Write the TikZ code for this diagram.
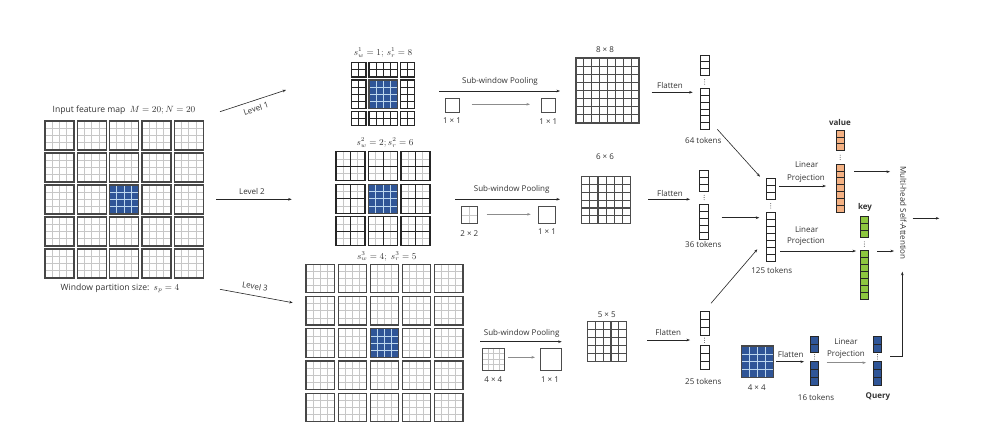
\documentclass[tikz,border=0pt]{standalone}
\usepackage{fontspec}
\setmainfont{Open Sans}
\usetikzlibrary{arrows.meta}
\definecolor{qblue}{HTML}{2F5597}
\definecolor{qline}{HTML}{BDD7EE}
\definecolor{vorange}{HTML}{F4B183}
\definecolor{kgreen}{HTML}{8DC63F}
\tikzset{
  fineln/.style={draw=black!22,line width=0.8pt},
  blueln/.style={draw=qline,line width=0.8pt},
  winbd/.style={draw=black!72,line width=1.2pt},
  cellln/.style={draw=black!85,line width=1pt},
  cellbd/.style={draw=black!85,line width=1.2pt},
  outln/.style={draw=black!70,line width=1.1pt},
  tokbd/.style={draw=black!85,line width=0.8pt},
  lbl/.style={font=\fontsize{8}{9}\selectfont,text=black!80,inner sep=0pt},
  mlbl/.style={font=\fontsize{8.6}{9}\selectfont,text=black!80,inner sep=0pt},
  blbl/.style={lbl,font=\fontsize{8}{9}\selectfont\bfseries},
  arr/.style={-{Stealth[length=3.5pt,width=2.6pt]},line width=0.6pt,draw=black!85},
  garr/.style={-{Stealth[length=3.5pt,width=2.6pt]},line width=1pt,draw=black!45},
  pbox/.style={draw=black!70,line width=1pt}
}
\newcommand\cellgrid[7]{%
  \pgfmathsetmacro\cgdx{(#3)/(#5)}%
  \pgfmathsetmacro\cgdy{(#4)/(#6)}%
  \foreach \ci in {1,...,#5}{\draw[#7] ({#1+\ci*\cgdx},{#2}) -- ++(0,{#4});}%
  \foreach \cj in {1,...,#6}{\draw[#7] ({#1},{#2+\cj*\cgdy}) -- ++({#3},0);}%
}
\newcommand\gwin[3]{\cellgrid{#1}{#2}{#3}{#3}{4}{4}{fineln}\draw[winbd] ({#1},{#2}) rectangle ++(#3,#3);}
\newcommand\bwin[3]{\fill[qblue] ({#1},{#2}) rectangle ++(#3,#3);\cellgrid{#1}{#2}{#3}{#3}{4}{4}{blueln}\draw[winbd] ({#1},{#2}) rectangle ++(#3,#3);}
\newcommand\kblk[4]{\cellgrid{#1}{#2}{#3*7.1}{#4*7.1}{#3}{#4}{cellln}\draw[cellbd] ({#1},{#2}) rectangle ++({#3*7.1},{#4*7.1});}
\newcommand\mblk[3]{\cellgrid{#1}{#2}{#3}{#3}{4}{4}{fineln}\cellgrid{#1}{#2}{#3}{#3}{2}{2}{cellln}\draw[cellbd] ({#1},{#2}) rectangle ++(#3,#3);}
% token column: x, w, y1, n1, y2, n2, cell h, fill
\newcommand\tokcol[8]{%
  \foreach \k in {1,...,#4}{\draw[tokbd,fill=#8] ({#1},{#3+(\k-1)*#7}) rectangle ++(#2,#7);}%
  \foreach \k in {1,...,#6}{\draw[tokbd,fill=#8] ({#1},{#5+(\k-1)*#7}) rectangle ++(#2,#7);}%
  \foreach \d in {-2.2,0,2.2}{\fill[black!80] ({#1+#2/2},{(#3+#4*#7+#5)/2+\d}) circle[radius=0.45pt];}%
}
\begin{document}
\begin{tikzpicture}[x=1pt,y=-1pt]
\useasboundingbox (0,0) rectangle (992,432);
\fill[white] (0,0) rectangle (992,432);

% ---------------- input feature map
\foreach \r in {0,...,4}{\foreach \c in {0,...,4}{\gwin{45+\c*32.3}{121+\r*32}{29}}}
\bwin{45+2*32.3}{121+2*32}{29}
\node[mlbl] (inlbl) at (124,110.7) {Input feature map\enspace $M=20;N=20$};
\node[mlbl] (wps) at (120,288) {Window partition size:\enspace $s_p=4$};

% ---------------- level arrows
\coordinate (l1a) at (220,111.7); \coordinate (l1b) at (286,90);
\coordinate (l2a) at (216,199.3); \coordinate (l2b) at (291.7,199.3);
\coordinate (l3a) at (220,289.3); \coordinate (l3b) at (292.7,302.7);
\draw[arr] (l1a) -- (l1b);
\draw[arr] (l2a) -- (l2b);
\draw[arr] (l3a) -- (l3b);
\node[lbl,rotate=18] (lv1) at (256,108.5) {Level 1};
\node[lbl] (lv2) at (252,191.5) {Level 2};
\node[lbl,rotate=-10] (lv3) at (255,286.5) {Level 3};

% ---------------- level 1 region
\foreach \x/\nx in {351.7/2,368.9/4,400.3/2}{\foreach \y/\ny in {62.7/2,79.9/4,111.3/2}{\kblk{\x}{\y}{\nx}{\ny}}}
\bwin{368.9}{79.9}{28.4}
\node[mlbl] (s1) at (383,52.5) {$s_w^1=1;\,s_r^1=8$};

% ---------------- level 2 region
\foreach \x in {336,368.5,401}{\foreach \y in {151.7,184.2,216.7}{\mblk{\x}{\y}{29}}}
\bwin{368.5}{184.2}{29}
\node[mlbl] (s2) at (385,142.8) {$s_w^2=2;s_r^2=6$};

% ---------------- level 3 region
\foreach \r in {0,...,4}{\foreach \c in {0,...,4}{\gwin{306+\c*32.1}{264.3+\r*32.25}{28.5}}}
\bwin{306+2*32.1}{264.3+2*32.25}{28.5}
\node[mlbl] (s3) at (386.7,256.2) {$s_w^3=4;\;s_r^3=5$};

% ---------------- sub-window pooling, row 1
\node[lbl] (sp1) at (500,81.7) {Sub-window Pooling};
\coordinate (sp1a) at (439.3,91); \coordinate (sp1b) at (560,91);
\draw[arr] (sp1a) -- (sp1b);
\draw[pbox] (445,98.3) rectangle ++(14,14);
\draw[pbox] (541,98.3) rectangle ++(14,14);
\coordinate (g1a) at (471.7,104.3); \coordinate (g1b) at (530,104.3);
\draw[garr] (g1a) -- (g1b);
\node[lbl] (p1a) at (452,120.7) {1 × 1};
\node[lbl] (p1b) at (548.3,121.3) {1 × 1};

% row 2
\node[lbl] (sp2) at (511.7,189.3) {Sub-window Pooling};
\coordinate (sp2a) at (455,199.3); \coordinate (sp2b) at (560,199.3);
\draw[arr] (sp2a) -- (sp2b);
\cellgrid{461}{206.7}{16.5}{16.5}{2}{2}{fineln}
\draw[pbox] (461,206.7) rectangle ++(16.5,16.5);
\draw[pbox] (538.3,206.7) rectangle ++(17.5,17);
\coordinate (g2a) at (486.7,214.3); \coordinate (g2b) at (530.7,214.3);
\draw[garr] (g2a) -- (g2b);
\node[lbl] (p2a) at (469.3,233.3) {2 × 2};
\node[lbl] (p2b) at (547,232) {1 × 1};

% row 3
\node[lbl] (sp3) at (521.7,333.3) {Sub-window Pooling};
\coordinate (sp3a) at (480,341.7); \coordinate (sp3b) at (561.7,341.7);
\draw[arr] (sp3a) -- (sp3b);
\cellgrid{482.7}{348.3}{22}{22}{4}{4}{fineln}
\draw[pbox] (482.7,348.3) rectangle ++(22,22);
\draw[pbox] (540,348.3) rectangle ++(21.7,21.7);
\coordinate (g3a) at (508.3,357.3); \coordinate (g3b) at (535,357.3);
\draw[garr] (g3a) -- (g3b);
\node[lbl] (p3a) at (493.3,380) {4 × 4};
\node[lbl] (p3b) at (550,380) {1 × 1};

% ---------------- pooled grids
\cellgrid{576}{58}{63}{65}{8}{8}{outln}
\draw[outln] (576,58) rectangle ++(63,65);
\node[lbl] (g8) at (605,50) {8 × 8};
\cellgrid{581.7}{176.7}{49}{47}{6}{6}{outln}
\draw[outln] (581.7,176.7) rectangle ++(49,47);
\node[lbl] (g6) at (605,157) {6 × 6};
\cellgrid{587.3}{321.7}{39.4}{39.4}{5}{5}{outln}
\draw[outln] (587.3,321.7) rectangle ++(39.4,39.4);
\node[lbl] (g5) at (606.7,315) {5 × 5};

% ---------------- flatten
\node[lbl] (f1) at (670,85.7) {Flatten};
\coordinate (f1a) at (651.7,92.3); \coordinate (f1b) at (692.7,92.3);
\draw[arr] (f1a) -- (f1b);
\node[lbl] (f2) at (670,193.3) {Flatten};
\coordinate (f2a) at (648.3,199.3); \coordinate (f2b) at (690,199.3);
\draw[arr] (f2a) -- (f2b);
\node[lbl] (f3) at (668.3,332.7) {Flatten};
\coordinate (f3a) at (647.3,340); \coordinate (f3b) at (690,340);
\draw[arr] (f3a) -- (f3b);

% token columns
\tokcol{700}{9.3}{55}{3}{88.5}{6}{6.8}{white}
\node[lbl] (t64) at (703.3,140.7) {64 tokens};
\tokcol{699.5}{9.3}{170}{3}{204}{5}{7}{white}
\node[lbl] (t36) at (703.3,244) {36 tokens};
\tokcol{700}{9}{311}{3}{345}{3}{8.2}{white}
\node[lbl] (t25) at (703.3,381.7) {25 tokens};
\tokcol{766.5}{8.5}{178.3}{3}{212.7}{7}{6.9}{white}
\node[lbl] (t125) at (771.7,270.7) {125 tokens};

% merge arrows
\coordinate (m1a) at (717.3,129.3); \coordinate (m1b) at (760,176.7);
\coordinate (m2a) at (721.7,217.7); \coordinate (m2b) at (759.3,217.7);
\coordinate (m3a) at (711,303.3); \coordinate (m3b) at (757.3,249.3);
\draw[arr] (m1a) -- (m1b);
\draw[arr] (m2a) -- (m2b);
\draw[arr] (m3a) -- (m3b);

% ---------------- linear projections
\node[lbl] (lp1a) at (806.7,165) {Linear};
\node[lbl] (lp1b) at (806,178.3) {Projection};
\coordinate (lp1s) at (779.3,186); \coordinate (lp1e) at (826,186);
\draw[arr] (lp1s) -- (lp1e);
\node[lbl] (lp2a) at (806.7,230) {Linear};
\node[lbl] (lp2b) at (806,241.7) {Projection};
\coordinate (lp2s) at (780,251); \coordinate (lp2e) at (856,251);
\draw[arr] (lp2s) -- (lp2e);

% value / key
\tokcol{836}{8.3}{130}{3}{164}{7}{6.9}{vorange}
\node[blbl] (val) at (840,122.7) {value};
\tokcol{860}{8.7}{216.7}{3}{250.7}{7}{6.9}{kgreen}
\node[blbl] (key) at (865,207.7) {key};

% ---------------- query path
\bwin{741.7}{346}{31.7}
\node[lbl] (q44) at (756.7,387.7) {4 × 4};
\node[lbl] (f4) at (790.7,354) {Flatten};
\coordinate (f4a) at (776,361.7); \coordinate (f4b) at (804,361.7);
\draw[arr] (f4a) -- (f4b);
\tokcol{810.7}{7.7}{336}{2}{361.7}{3}{8}{qblue}
\node[lbl] (t16) at (816,397) {16 tokens};
\node[lbl] (lp3a) at (846,341.7) {Linear};
\node[lbl] (lp3b) at (846,354.3) {Projection};
\coordinate (lp3s) at (826.7,362.7); \coordinate (lp3e) at (866,362.7);
\draw[garr] (lp3s) -- (lp3e);
\tokcol{873.3}{8.4}{336}{2}{361.7}{3}{8}{qblue}
\node[blbl] (qry) at (878,397) {Query};

% ---------------- attention
\node[lbl,rotate=-90] (mhsa) at (903.3,213) {Multi-head Self-Attention};
\coordinate (va) at (854,171.7); \coordinate (vb) at (890,171.7);
\draw[arr] (va) -- (vb);
\coordinate (ka) at (877.3,251); \coordinate (kb) at (894,251);
\draw[arr] (ka) -- (kb);
\coordinate (qa) at (890,356); \coordinate (qb) at (902.3,271.7);
\draw[arr] (qa) -| (qb);
\coordinate (oa) at (912.7,218.3); \coordinate (ob) at (939.3,218.3);
\draw[arr] (oa) -- (ob);
\end{tikzpicture}
\end{document}
